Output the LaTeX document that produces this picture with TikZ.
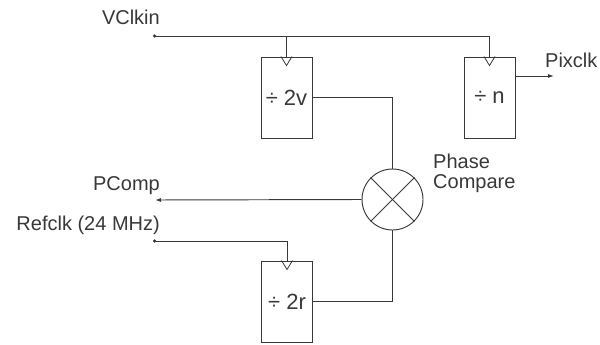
\documentclass[tikz,border=0pt]{standalone}
\usepackage{fontspec}
\setmainfont{Liberation Sans}
\usetikzlibrary{arrows.meta}
\definecolor{ink}{HTML}{383838}
\tikzset{
  wire/.style={draw=ink, line width=0.95pt},
  divbox/.style={draw=ink, line width=0.95pt, minimum width=51pt, minimum height=81pt, inner sep=0pt, font=\fontsize{22}{24}\selectfont, text=ink},
  lbl/.style={inner sep=0pt, font=\fontsize{20}{20}\selectfont, text=ink},
  outarrow/.style={-{Latex[length=6pt,width=4pt]}},
  inarrow/.style={{Circle[length=3.2pt]}-},
  clk/.style={draw=ink, line width=0.8pt}
}
\begin{document}
\begin{tikzpicture}[x=1pt,y=1pt]
\useasboundingbox (0,0) rectangle (600,-345);
% boxes
\node[divbox] (bv) at (286.5,-97.5) {÷ 2v};
\node[divbox] (bn) at (489.5,-97.5) {÷ n};
\node[divbox] (br) at (287,-301.5) {÷ 2r};
\node[draw=ink, line width=0.95pt, circle, minimum size=61pt, inner sep=0pt] (pc) at (392.5,-199.5) {};
\draw[wire] (pc.north west) -- (pc.south east);
\draw[wire] (pc.north east) -- (pc.south west);
% labels
\node[lbl, anchor=base east] (vl) at (160,-25) {VClkin};
\node[lbl, anchor=base west] (pxl) at (545,-67) {Pixclk};
\node[lbl, anchor=base east] (pcl) at (160,-190) {PComp};
\node[lbl, anchor=base east] (rl) at (160,-230) {Refclk (24 MHz)};
\node[lbl, anchor=base west, align=left] (phl) at (433,-188) {Phase\\Compare};
% free ends
\coordinate (vin) at (153,-36);
\coordinate (rin) at (153,-241);
\coordinate (pout) at (155,-200);
\coordinate (pxout) at (554,-76);
% clock triangles
\foreach \b in {bv,bn,br}{
  \draw[clk] ([xshift=-5.5pt]\b.north) -- ([yshift=-9pt]\b.north) -- ([xshift=5.5pt]\b.north);
}
% connectors
\draw[wire, inarrow] (vin) -| (bn.north);
\draw[wire] (bv.north |- vin) -- (bv.north);
\draw[wire, inarrow] (rin) -| (br.north);
\draw[wire] (bv.east) -| (pc.north);
\draw[wire] (br.east) -| (pc.south);
\draw[wire, outarrow] (pc.west) -- (pout);
\draw[wire, outarrow] (bn.east |- pxout) -- (pxout);
\end{tikzpicture}
\end{document}
